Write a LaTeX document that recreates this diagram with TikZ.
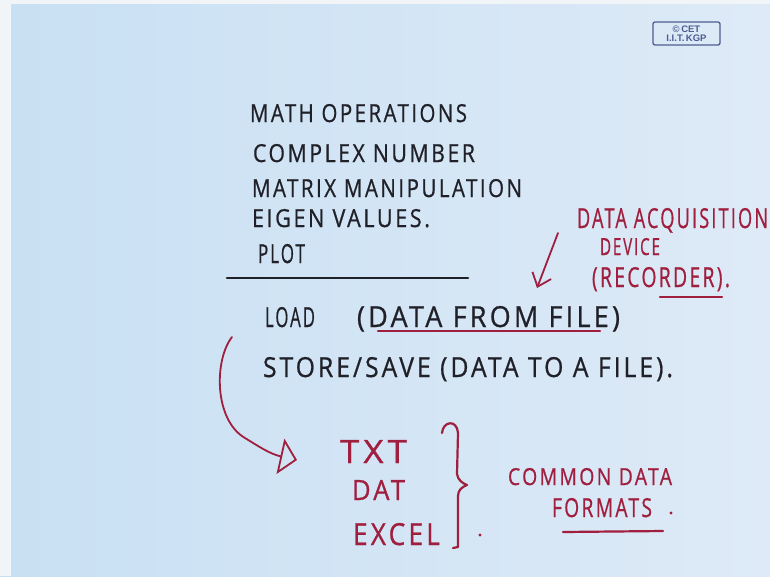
\documentclass[tikz,border=0pt]{standalone}
\usepackage{fontspec}
\usepackage{graphicx}
\usetikzlibrary{arrows.meta}
\newfontfamily\handfont[LetterSpace=12, FakeBold=0.8]{Open Sans}
\newfontfamily\logofont{Liberation Sans}
\definecolor{inkblack}{RGB}{32,32,40}
\definecolor{inkred}{RGB}{160,30,62}
\definecolor{logoblue}{RGB}{80,92,145}
\definecolor{paperL}{RGB}{200,224,243}
\definecolor{paperR}{RGB}{222,234,247}
\definecolor{edgewhite}{RGB}{242,245,248}
\newcommand{\fitto}[3]{\resizebox{#1pt}{#2pt}{\fontsize{20}{24}\selectfont #3}}
\tikzset{
  hand/.style={anchor=base west, inner sep=0pt, outer sep=0pt, font=\handfont},
  blk/.style={hand, text=inkblack},
  rd/.style={hand, text=inkred},
  blkpen/.style={draw=inkblack, line width=2.6pt, line cap=round},
  redpen/.style={draw=inkred, line width=2.2pt, line cap=round, line join=round},
  redthin/.style={draw=inkred, line width=1.8pt, line cap=round, line join=round},
}
\begin{document}
\begin{tikzpicture}[x=1pt,y=-1pt]
\useasboundingbox (0,0) rectangle (770,576);
% paper
\shade[left color=paperL, right color=paperR] (0,0) rectangle (770,576);
\fill[edgewhite] (0,0) rectangle (11,576);
\fill[edgewhite] (0,0) rectangle (770,4);
% logo
\node[draw=logoblue, line width=1.3pt, rounded corners=2pt, minimum width=67pt, minimum height=23pt, inner sep=0pt, text=logoblue, font=\logofont\bfseries\fontsize{9.5}{9.5}\selectfont, align=center] (logo) at (686.5,33.5) {\copyright\,CET\\[-1pt]I.I.T.\,KGP};
% black list
\node[blk] (math) at (250,122) {\fitto{217}{18}{MATH OPERATIONS}};
\node[blk] (complex) at (253,162) {\fitto{222}{18}{COMPLEX NUMBER}};
\node[blk] (matrix) at (252,197) {\fitto{270}{18}{MATRIX MANIPULATION}};
\node[blk] (eigen) at (252,227) {\fitto{178}{18}{EIGEN VALUES.}};
\node[blk] (plot) at (258,263) {\fitto{47}{19}{PLOT}};
\coordinate (ruleL) at (227,278);
\coordinate (ruleR) at (468,278);
\draw[blkpen] (ruleL) -- (ruleR);
% load / store
\node[blk] (load) at (265,327) {\fitto{50}{20}{LOAD}};
\node[blk] (loadp) at (357,327) {\fitto{263}{21}{(DATA FROM FILE)}};
\coordinate (ulA) at (378,331);
\coordinate (ulB) at (600,331);
\draw[redpen] (ulA) -- (ulB);
\node[blk] (store) at (263,377) {\fitto{410}{20}{STORE/SAVE (DATA TO A FILE).}};
% data acquisition device
\node[rd] (daq) at (577,228) {\fitto{191}{20}{DATA ACQUISITION}};
\node[rd] (device) at (600,255) {\fitto{60}{17}{DEVICE}};
\node[rd] (recorder) at (592,287) {\fitto{138}{20}{(RECORDER).}};
\coordinate (recA) at (660,297);
\coordinate (recB) at (722,297);
\draw[redpen] (recA) -- (recB);
\coordinate (daqArrowStart) at (558,233);
\coordinate (daqArrowEnd) at (537,288);
\draw[redthin, -{Straight Barb[length=12pt,width=20pt,line width=1.8pt]}] (daqArrowStart) -- (daqArrowEnd);
% formats
\node[rd] (txt) at (340,463) {\fitto{67}{23}{TXT}};
\node[rd] (dat) at (352,500) {\fitto{53}{20}{DAT}};
\node[rd] (excel) at (353,545) {\fitto{87}{22}{EXCEL}};
\coordinate (braceTop) at (442,433);
\draw[redpen] (braceTop) .. controls (443,421) and (457,419) .. (458,433)
  -- (457,474) .. controls (458,480) and (462,483) .. (467,485)
  .. controls (462,487) and (458,490) .. (458,496) -- (458,547) -- (453,548);
\fill[inkred] (480,535) circle (1.6pt);
\node[rd] (common) at (508,485) {\fitto{164}{17}{COMMON DATA}};
\node[rd] (formatsw) at (552,517) {\fitto{100}{19}{FORMATS}};
\fill[inkred] (671,513) circle (1.6pt);
\coordinate (fmA) at (563,532);
\coordinate (fmB) at (663,531);
\draw[redpen] (fmA) -- (fmB);
% curved arrow from store to txt
\coordinate (curveStart) at (232,337);
\coordinate (curveTip) at (297,460);
\draw[redthin, -{Triangle[open,length=17pt,width=36pt,line width=1.8pt]}] (curveStart) .. controls (214,360) and (214,420) .. (245,438) .. controls (258,446) and (270,454) .. (curveTip);
\end{tikzpicture}
\end{document}
